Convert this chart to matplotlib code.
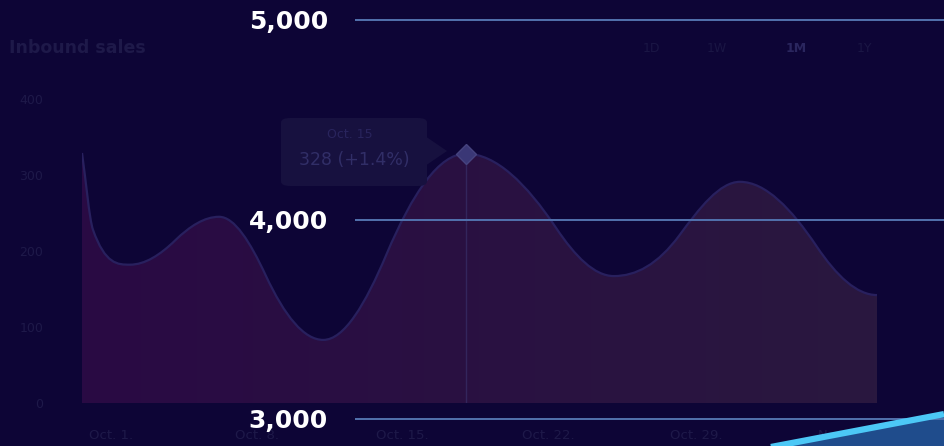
import matplotlib
matplotlib.use("Agg")
import matplotlib.pyplot as plt
import numpy as np
from matplotlib.path import Path
from matplotlib.patches import PathPatch, FancyBboxPatch, Polygon

W, H = 944, 446
BG = "#0d0536"
FAINT = "#1e1949"

# inbound sales (1M view), days of October
days = [1, 1.4, 2.75, 4.4, 6.0, 7.7, 9.8, 12.1, 15, 18.3, 20.4,
        22.8, 25, 27.8, 30]
sales = [329, 228, 182, 214, 245, 168, 83, 195, 328, 230, 167,
         221, 291, 206, 142]
day_ticks = [2.06, 7.4, 12.7, 18.0, 23.4, 28.7]
day_labels = ["Oct. 1.", "Oct. 8.", "Oct. 15.", "Oct. 22.", "Oct. 29.", "Nov. 5."]
sales_ticks = [0, 100, 200, 300, 400]
tabs = ["1D", "1W", "1M", "1Y"]
active_tab = "1M"
hover_day, hover_value, hover_change = "Oct. 15", 328, "+1.4%"

# big overlay scale
levels = [3000, 4000, 5000]
trend_x = [0.80, 1.0]
trend_y = [2845, 3025]


def px(x, y):
    return x / W, 1 - y / H


def smooth_path(xs, ys, base=None, k=1.8):
    # hermite spline as bezier segments, flat at peaks/valleys, steeper on slopes
    xs = np.asarray(xs, float)
    ys = np.asarray(ys, float)
    h = np.diff(xs)
    d = np.diff(ys) / h
    m = np.zeros_like(ys)
    m[0] = d[0]  # sharp start, the line eases out at the right end
    for i in range(1, len(xs) - 1):
        if d[i - 1] * d[i] > 0:
            s = k * (d[i - 1] + d[i]) / 2
            lim = 3 * min(abs(d[i - 1]), abs(d[i]))
            m[i] = np.clip(s, -lim, lim)
    verts = [(xs[0], ys[0])]
    codes = [Path.MOVETO]
    for i in range(len(xs) - 1):
        verts += [(xs[i] + h[i] / 3, ys[i] + m[i] * h[i] / 3),
                  (xs[i + 1] - h[i] / 3, ys[i + 1] - m[i + 1] * h[i] / 3),
                  (xs[i + 1], ys[i + 1])]
        codes += [Path.CURVE4] * 3
    if base is not None:
        verts += [(xs[-1], base), (xs[0], base), (xs[0], ys[0])]
        codes += [Path.LINETO, Path.LINETO, Path.CLOSEPOLY]
    return Path(verts, codes)


fig = plt.figure(figsize=(W / 100, H / 100), dpi=100, facecolor=BG)

# ---- inbound sales card ----
ax = fig.add_axes([82 / W, (H - 403) / H, (877 - 82) / W, (403 - 99) / H])
ax.set_facecolor(BG)
ax.set_xlim(1, 30)
ax.set_ylim(0, 400)
for s in ax.spines.values():
    s.set_visible(False)
ax.set_yticks(sales_ticks)
ax.set_yticklabels([str(v) for v in sales_ticks])
ax.set_xticks(day_ticks)
ax.set_xticklabels(day_labels)
ax.tick_params(axis="y", length=0, pad=28, labelsize=9, labelcolor=FAINT)
ax.tick_params(axis="x", length=0, pad=19, labelsize=9.5, labelcolor=FAINT)

area = PathPatch(smooth_path(days, sales, base=0), facecolor="none", edgecolor="none")
ax.add_patch(area)
grad = np.linspace(0, 1, 256)[None, :, None]
c0 = np.array([41, 10, 68]) / 255
c1 = np.array([41, 24, 63]) / 255
img = c0 + (c1 - c0) * grad
im = ax.imshow(np.repeat(img, 2, axis=0), extent=(1, 30, 0, 400), aspect="auto",
               origin="lower", zorder=1)
im.set_clip_path(area)
ax.add_patch(PathPatch(smooth_path(days, sales), facecolor="none",
                       edgecolor="#28205e", lw=1.6, zorder=2))

# hover marker
ax.vlines(15, 0, hover_value, color="#33255c", lw=1, zorder=2)
ax.plot([15], [hover_value], marker="D", ms=10, color="#3a3776", mec="#46437f",
        mew=1, zorder=3)

# tooltip
tip = FancyBboxPatch(px(281, 186), 146 / W, 68 / H, boxstyle="round,pad=0,rounding_size=0.01",
                     transform=fig.transFigure, facecolor="#17113f", edgecolor="none")
fig.patches.append(tip)
fig.patches.append(Polygon([px(425, 136), px(447, 151), px(425, 166)], closed=True,
                           transform=fig.transFigure, facecolor="#17113f", edgecolor="none"))
fig.text(*px(350, 134), hover_day, ha="center", va="center", fontsize=9, color="#29245d")
fig.text(*px(299, 160), f"{hover_value} ({hover_change})", ha="left", va="center",
         fontsize=12.5, color="#312e67")

# title and range tabs
fig.text(*px(9, 48), "Inbound sales", ha="left", va="center", fontsize=12.5,
         color=FAINT, fontweight="bold")
for t, x in zip(tabs, [651, 717, 796, 864]):
    fig.text(*px(x, 49), t, ha="center", va="center", fontsize=9,
             color="#2a265e" if t == active_tab else "#1a1644",
             fontweight="bold" if t == active_tab else "normal")

# ---- overlay scale ----
ax2 = fig.add_axes([0, 0, 1, 1])
ax2.set_xlim(0, 1)
ax2.set_ylim(2865, 5100)
ax2.axis("off")
ax2.hlines(levels, 355 / W, 1, color="#5272ae", lw=1.4)
for v in levels:
    ax2.text(328 / W, v - 12, f"{v:,}", ha="right", va="center", fontsize=18,
             fontweight="bold", color="white")
ax2.fill_between(trend_x, trend_y, 2865, color="#1f4c8c", lw=0)
ax2.plot(trend_x, trend_y, color="#4cc8f6", lw=4.5, solid_capstyle="butt")

fig.savefig("out.png", dpi=100, facecolor=BG)
